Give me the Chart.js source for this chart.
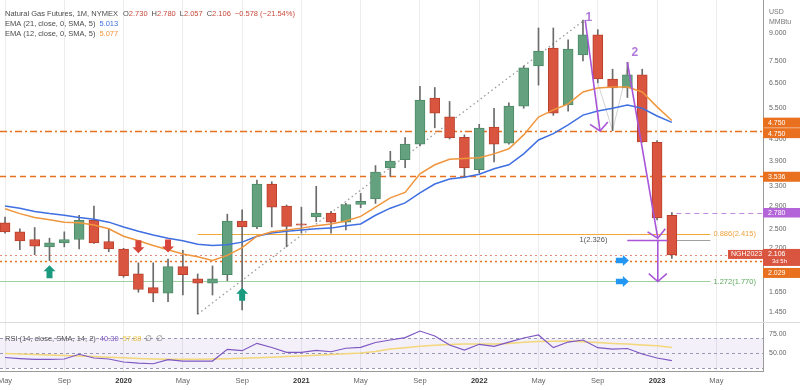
<!DOCTYPE html>
<html>
<head>
<meta charset="utf-8">
<title>Natural Gas Futures, 1M</title>
<script src="https://cdn.jsdelivr.net/npm/chart.js@4.4.1/dist/chart.umd.min.js"></script>
<style>
  body { margin: 0; background: #fff; }
  #wrap { position: relative; width: 800px; height: 390px; overflow: hidden; }
  #priceChart { position: absolute; left: 0; top: 0; }
  #rsiChart { position: absolute; left: 0; top: 323px; }
</style>
</head>
<body>
<div id="wrap">
  <canvas id="priceChart" width="800" height="323"></canvas>
  <canvas id="rsiChart" width="800" height="67"></canvas>
</div>
<script>
const FONT = "'Liberation Sans', Arial, sans-serif";

// monthly candles, May 2019 .. Feb 2023 (index 0 = May 2019)
const openP  = [2.60,2.45,2.33,2.22,2.28,2.33,2.64,2.30,2.19,1.86,1.70,1.64,1.95,1.80,1.75,1.85,2.63,2.53,3.35,2.90,2.58,2.70,2.77,2.61,2.93,3.04,3.72,3.93,4.35,5.88,5.20,4.55,3.68,4.86,4.38,5.58,7.25,8.16,5.62,7.80,8.90,6.66,6.28,6.84,4.40,2.73];
const highP  = [2.70,2.50,2.52,2.35,2.45,2.73,2.90,2.50,2.20,2.00,2.00,2.05,2.17,1.86,1.96,2.75,2.83,3.44,3.40,2.92,2.88,3.30,2.80,2.95,3.15,3.78,4.15,4.54,6.35,6.30,5.75,4.62,4.95,5.50,5.70,7.25,9.30,9.30,8.60,9.80,9.20,7.10,7.43,7.10,4.45,2.78];
const lowP   = [2.43,2.18,2.11,2.03,2.22,2.19,2.27,2.15,1.82,1.65,1.55,1.55,1.62,1.43,1.62,1.78,1.47,2.50,2.53,2.22,2.43,2.62,2.43,2.48,2.87,2.95,3.52,3.73,4.30,4.84,4.50,3.52,3.60,3.87,4.35,5.50,6.40,5.25,5.40,7.50,6.50,4.75,5.90,4.40,2.65,2.057];
const closeP = [2.45,2.31,2.23,2.28,2.33,2.64,2.28,2.19,1.84,1.68,1.64,1.95,1.85,1.75,1.80,2.63,2.53,3.35,2.88,2.54,2.56,2.77,2.61,2.93,2.99,3.62,3.89,4.35,5.80,5.33,4.53,3.72,4.83,4.35,5.58,7.16,8.00,5.33,8.10,8.90,6.66,6.28,6.84,4.41,2.684,2.106];

const ema21 = [2.90,2.86,2.80,2.76,2.73,2.69,2.66,2.61,2.53,2.46,2.40,2.35,2.31,2.26,2.24,2.25,2.29,2.38,2.43,2.46,2.48,2.50,2.51,2.55,2.58,2.73,2.86,2.96,3.16,3.35,3.46,3.50,3.57,3.70,3.80,4.08,4.47,4.66,4.93,5.26,5.40,5.50,5.62,5.50,5.23,5.013];
const ema12 = [2.85,2.76,2.69,2.65,2.61,2.60,2.56,2.50,2.38,2.31,2.24,2.18,2.12,2.08,2.03,2.10,2.21,2.38,2.45,2.48,2.51,2.55,2.58,2.63,2.71,2.88,3.06,3.17,3.58,3.80,3.94,3.96,3.98,4.08,4.22,4.62,5.19,5.44,5.66,6.12,6.28,6.32,6.32,6.12,5.55,5.077];

const rsi   = [44.4,43,42,42,42.4,48.7,43.7,42.4,38.4,36.8,36.1,41.5,39.7,39.7,39.7,55.3,53.5,63.3,57.7,51.3,51.3,54,52.1,56.7,58,64.4,67.7,71,79.7,73,61,54.4,62,59.3,65,70.4,74.4,57.5,65,67.7,57.5,55.7,56.4,49,43.7,40.30];
const rsiMa = [49.7,49,48.4,47.7,47,46.4,45.7,44.8,44,43,42.4,42,42,42,42.4,42.7,43.3,44.1,44.8,45.7,46.4,47.3,48.4,49.5,50.4,52.4,55.7,57.3,59.3,60.8,61.6,62.4,62.4,62.4,63.2,64.7,65.6,66.1,66.4,65.3,64.3,63.2,62.4,61.1,60,57.88];

const tickMonths = [0,4,8,12,16,20,24,28,32,36,40,44,48];
const tickLabels = ['May','Sep','2020','May','Sep','2021','May','Sep','2022','May','Sep','2023','May'];
const priceTicks = [9, 7.5, 6.5, 5.5, 4.5, 3.9, 3.3, 2.9, 2.5, 2.2, 1.65, 1.45];
const rsiTicks = [75, 50];
const rsiBands = [70, 50, 30];

// drawn levels and marks (month index, price)
const level4750 = 4.750;
const level3536 = 3.536;
const level2029 = 2.029;
const lastHigh = 2.780;
const fib886 = 2.415;
const fib1 = 2.326;
const fib1272 = 1.770;
const fibStart = 13, fibEnd = 47.6;
const trendLine = [[13, 1.43], [39.1, 9.8]];
const legLines = [[40, 6.5], [41, 4.75], [42.1, 7.43]];
const buyArrows = [[3, 1.97], [16, 1.70]];
const sellArrows = [[9, 2.13], [11, 2.14]];
const targetArrows = [[42.1, 2.03], [42.1, 1.77]];
const waveArrows = [
  { label: '1', from: [39.15, 9.8], to: [40.15, 4.74], at: [39.4, 9.95] },
  { label: '2', from: [42.0, 7.43], to: [44.05, 2.35], at: [42.5, 7.9] }
];
const dropArrow = [[44.05, 2.326], [44.05, 1.77]];

const xMin = -0.34, xMax = 51.15;
const priceMin = 1.349, priceMax = 11.17;
const rsiMin = 26.4, rsiMax = 90.4;

const ORANGE = '#e8701e', PURPLE = '#a855d8', RED = '#d9553f', GREEN = '#64a27f';

function hLine(ctx, x1, x2, y, color, dash, width) {
  ctx.save();
  ctx.strokeStyle = color;
  ctx.lineWidth = width;
  ctx.setLineDash(dash);
  ctx.beginPath();
  ctx.moveTo(x1, Math.round(y) + 0.5);
  ctx.lineTo(x2, Math.round(y) + 0.5);
  ctx.stroke();
  ctx.restore();
}

function blockArrow(ctx, tx, ty, angle, color, len, half) {
  ctx.save();
  ctx.translate(tx, ty);
  ctx.rotate(angle);
  ctx.fillStyle = color;
  ctx.beginPath();
  ctx.moveTo(0, 0);
  ctx.lineTo(-6, -half);
  ctx.lineTo(-6, -half / 2);
  ctx.lineTo(-len, -half / 2);
  ctx.lineTo(-len, half / 2);
  ctx.lineTo(-6, half / 2);
  ctx.lineTo(-6, half);
  ctx.closePath();
  ctx.fill();
  ctx.restore();
}

function lineArrow(ctx, x1, y1, x2, y2, color) {
  ctx.save();
  ctx.strokeStyle = color;
  ctx.lineWidth = 1.6;
  ctx.beginPath();
  ctx.moveTo(x1, y1);
  ctx.lineTo(x2, y2);
  ctx.stroke();
  var a = Math.atan2(y2 - y1, x2 - x1), L = 12, s = 0.85;
  ctx.beginPath();
  ctx.moveTo(x2 - L * Math.cos(a - s), y2 - L * Math.sin(a - s));
  ctx.lineTo(x2, y2);
  ctx.lineTo(x2 - L * Math.cos(a + s), y2 - L * Math.sin(a + s));
  ctx.stroke();
  ctx.restore();
}

function drawParts(ctx, parts, x, y) {
  parts.forEach(function(p) {
    ctx.fillStyle = p[1];
    ctx.fillText(p[0], x, y);
    x += ctx.measureText(p[0]).width + (p[2] || 0);
  });
}

function axisBox(ctx, top, h, color, text, sub) {
  ctx.fillStyle = color;
  ctx.fillRect(763, top, 37, h);
  ctx.fillStyle = '#fff';
  ctx.textAlign = 'left';
  ctx.textBaseline = 'middle';
  ctx.font = '7px ' + FONT;
  if (sub) {
    ctx.fillText(text, 768, top + 5);
    ctx.font = '6px ' + FONT;
    ctx.fillText(sub, 772, top + 12.5);
  } else {
    ctx.fillText(text, 768, top + h / 2 + 0.5);
  }
}

const priceOverlay = {
  id: 'priceOverlay',
  beforeDatasetsDraw(chart) {
    const ctx = chart.ctx, xs = chart.scales.x, ys = chart.scales.y, area = chart.chartArea;
    hLine(ctx, area.left, area.right, ys.getPixelForValue(level4750), ORANGE, [7, 3, 2, 3], 1.4);
    hLine(ctx, area.left, area.right, ys.getPixelForValue(level3536), ORANGE, [6, 4], 1.4);
    hLine(ctx, area.left, area.right, ys.getPixelForValue(closeP[closeP.length - 1]), '#e58a7a', [2, 3], 1);
    hLine(ctx, area.left, area.right, ys.getPixelForValue(level2029), ORANGE, [2, 3], 1.4);
    hLine(ctx, xs.getPixelForValue(fibStart), xs.getPixelForValue(fibEnd), ys.getPixelForValue(fib886), '#f2a93b', [], 1.2);
    hLine(ctx, area.left, xs.getPixelForValue(fibEnd), ys.getPixelForValue(fib1272), '#9fd19f', [], 1.2);
    hLine(ctx, xs.getPixelForValue(42.0), xs.getPixelForValue(fibEnd), ys.getPixelForValue(fib1), '#a0a0a0', [], 1);
    hLine(ctx, xs.getPixelForValue(45.3), area.right, ys.getPixelForValue(lastHigh), '#c28be0', [5, 4], 1.2);

    ctx.save();
    ctx.strokeStyle = '#9a9a9a';
    ctx.lineWidth = 1.3;
    ctx.setLineDash([1.5, 3]);
    ctx.beginPath();
    ctx.moveTo(xs.getPixelForValue(trendLine[0][0]), ys.getPixelForValue(trendLine[0][1]));
    ctx.lineTo(xs.getPixelForValue(trendLine[1][0]), ys.getPixelForValue(trendLine[1][1]));
    ctx.stroke();
    ctx.setLineDash([]);
    ctx.strokeStyle = 'rgba(160,160,160,0.6)';
    ctx.lineWidth = 0.8;
    ctx.beginPath();
    legLines.forEach(function(p, k) {
      var px = xs.getPixelForValue(p[0]), py = ys.getPixelForValue(p[1]);
      if (k === 0) ctx.moveTo(px, py); else ctx.lineTo(px, py);
    });
    ctx.stroke();
    ctx.restore();
  },
  afterDatasetsDraw(chart) {
    const ctx = chart.ctx, xs = chart.scales.x, ys = chart.scales.y;
    buyArrows.forEach(function(p) {
      blockArrow(ctx, xs.getPixelForValue(p[0]), ys.getPixelForValue(p[1]), -Math.PI / 2, '#1a9a7e', 13, 6);
    });
    sellArrows.forEach(function(p) {
      blockArrow(ctx, xs.getPixelForValue(p[0]), ys.getPixelForValue(p[1]), Math.PI / 2, '#d8453a', 13, 6);
    });
    targetArrows.forEach(function(p) {
      blockArrow(ctx, xs.getPixelForValue(p[0]), ys.getPixelForValue(p[1]), 0, '#2196f3', 13, 5.5);
    });

    // fib labels
    ctx.save();
    ctx.font = '7.5px ' + FONT;
    ctx.textBaseline = 'middle';
    ctx.textAlign = 'left';
    var lx = xs.getPixelForValue(fibEnd) + 3;
    ctx.fillStyle = '#eda13a';
    ctx.fillText('0.886(' + fib886.toFixed(3) + ')', lx, ys.getPixelForValue(fib886));
    ctx.fillStyle = '#5fa85f';
    ctx.fillText('1.272(' + fib1272.toFixed(3) + ')', lx, ys.getPixelForValue(fib1272));
    ctx.fillStyle = '#555';
    ctx.textAlign = 'right';
    ctx.fillText('1(' + fib1.toFixed(3) + ')', xs.getPixelForValue(42.0) - 20, ys.getPixelForValue(fib1));
    ctx.restore();

    // wave arrows
    hLine(ctx, xs.getPixelForValue(42.0), xs.getPixelForValue(44.7), ys.getPixelForValue(fib1), PURPLE, [], 1.4);
    waveArrows.forEach(function(w) {
      lineArrow(ctx, xs.getPixelForValue(w.from[0]), ys.getPixelForValue(w.from[1]),
        xs.getPixelForValue(w.to[0]), ys.getPixelForValue(w.to[1]), PURPLE);
      ctx.save();
      ctx.fillStyle = '#b07ad8';
      ctx.font = 'bold 12px ' + FONT;
      ctx.textAlign = 'center';
      ctx.textBaseline = 'middle';
      ctx.fillText(w.label, xs.getPixelForValue(w.at[0]), ys.getPixelForValue(w.at[1]));
      ctx.restore();
    });
    lineArrow(ctx, xs.getPixelForValue(dropArrow[0][0]), ys.getPixelForValue(dropArrow[0][1]),
      xs.getPixelForValue(dropArrow[1][0]), ys.getPixelForValue(dropArrow[1][1]), PURPLE);
  },
  afterDraw(chart) {
    const ctx = chart.ctx, ys = chart.scales.y;
    var n = closeP.length - 1;
    ctx.save();
    // separator
    ctx.fillStyle = '#dcdcdc';
    ctx.fillRect(0, 322, 800, 1);

    var y475 = ys.getPixelForValue(level4750);
    axisBox(ctx, y475 - 13, 10, ORANGE, level4750.toFixed(3));
    axisBox(ctx, y475 - 2.5, 10, ORANGE, level4750.toFixed(3));
    axisBox(ctx, ys.getPixelForValue(level3536) - 4, 10, ORANGE, level3536.toFixed(3));
    axisBox(ctx, ys.getPixelForValue(lastHigh) - 4.5, 9.5, '#b364d9', lastHigh.toFixed(3));
    var yc = ys.getPixelForValue(closeP[n]);
    axisBox(ctx, yc - 6, 17, RED, closeP[n].toFixed(3), '3d 5h');
    axisBox(ctx, Math.max(ys.getPixelForValue(level2029) - 5, yc + 13), 10, ORANGE, level2029.toFixed(3));
    ctx.fillStyle = RED;
    ctx.fillRect(728, yc - 5, 35, 9);
    ctx.fillStyle = '#fff';
    ctx.font = '7px ' + FONT;
    ctx.textBaseline = 'middle';
    ctx.fillText('NGH2023', 731, yc - 0.5);

    ctx.fillStyle = '#777';
    ctx.font = '7px ' + FONT;
    ctx.fillText('USD', 769, 12);
    ctx.fillText('MMBtu', 769, 22);

    // legend
    ctx.font = '7.5px ' + FONT;
    var grey = '#4a4a4a', val = '#c84a3c';
    var chg = closeP[n] - closeP[n - 1];
    drawParts(ctx, [
      ['Natural Gas Futures, 1M, NYMEX', grey, 5],
      ['O', grey], [openP[n].toFixed(3), val, 4],
      ['H', grey], [highP[n].toFixed(3), val, 4],
      ['L', grey], [lowP[n].toFixed(3), val, 4],
      ['C', grey], [closeP[n].toFixed(3), val, 4],
      ['\u2212' + Math.abs(chg).toFixed(3) + ' (\u2212' + Math.abs(chg / closeP[n - 1] * 100).toFixed(2) + '%)', val]
    ], 5, 14);
    drawParts(ctx, [['EMA (21, close, 0, SMA, 5)', grey, 4], [ema21[n].toFixed(3), '#3f6fe0']], 5, 24);
    drawParts(ctx, [['EMA (12, close, 0, SMA, 5)', grey, 4], [ema12[n].toFixed(3), '#f0963c']], 5, 34);
    ctx.restore();
  }
};

const rsiOverlay = {
  id: 'rsiOverlay',
  beforeDatasetsDraw(chart) {
    const ctx = chart.ctx, ys = chart.scales.y, area = chart.chartArea;
    var top = ys.getPixelForValue(rsiBands[0]), bot = ys.getPixelForValue(rsiBands[2]);
    ctx.save();
    ctx.fillStyle = 'rgba(126,87,194,0.09)';
    ctx.fillRect(area.left, top, area.right - area.left, bot - top);
    ctx.restore();
    rsiBands.forEach(function(b) {
      hLine(ctx, area.left, area.right, ys.getPixelForValue(b), '#9a98b4', [3, 3], 1);
    });
  },
  afterDraw(chart) {
    const ctx = chart.ctx;
    var n = rsi.length - 1;
    ctx.save();
    ctx.font = '7.5px ' + FONT;
    ctx.textBaseline = 'middle';
    drawParts(ctx, [
      ['RSI (14, close, SMA, 14, 2)', '#555', 4],
      [rsi[n].toFixed(2), '#7e57c2', 4],
      [rsiMa[n].toFixed(2), '#e8c547', 4],
      ['\u2205', '#777', 4], ['\u2205', '#777']
    ], 5, 16);
    ctx.restore();
  }
};

function xy(arr) {
  return arr.map(function(v, i) { return { x: i, y: v }; });
}

var priceCtx = document.getElementById('priceChart').getContext('2d');
var priceChart = new Chart(priceCtx, {
  type: 'bar',
  data: {
    datasets: [{
      type: 'line',
      label: 'EMA 12',
      data: xy(ema12),
      borderColor: '#f0963c',
      borderWidth: 1.5,
      pointRadius: 0,
      tension: 0,
      order: 0
    }, {
      type: 'line',
      label: 'EMA 21',
      data: xy(ema21),
      borderColor: '#3f6fe0',
      borderWidth: 1.5,
      pointRadius: 0,
      tension: 0,
      order: 1
    }, {
      label: 'Body',
      data: openP.map(function(o, i) { return { x: i, y: [o, closeP[i]] }; }),
      backgroundColor: openP.map(function(o, i) { return closeP[i] >= o ? GREEN : RED; }),
      borderColor: openP.map(function(o, i) { return closeP[i] >= o ? '#4c8a67' : '#b8402d'; }),
      borderWidth: 1,
      borderSkipped: false,
      barThickness: 10,
      grouped: false,
      order: 2
    }, {
      label: 'Wick',
      data: lowP.map(function(l, i) { return { x: i, y: [l, highP[i]] }; }),
      backgroundColor: '#6b6b6b',
      barThickness: 1,
      grouped: false,
      order: 3
    }]
  },
  options: {
    responsive: false,
    animation: false,
    devicePixelRatio: 1,
    layout: { padding: 0 },
    plugins: { legend: { display: false }, tooltip: { enabled: false } },
    scales: {
      x: {
        type: 'linear',
        min: xMin,
        max: xMax,
        offset: false,
        bounds: 'data',
        grid: { color: '#ececec', drawTicks: false, offset: false },
        border: { display: false },
        ticks: { display: false },
        afterBuildTicks: function(s) { s.ticks = tickMonths.map(function(v) { return { value: v }; }); },
        afterFit: function(s) { s.height = 0; s.paddingLeft = 0; s.paddingRight = 0; }
      },
      y: {
        type: 'logarithmic',
        position: 'right',
        min: priceMin,
        max: priceMax,
        bounds: 'data',
        grid: { display: false, drawTicks: false },
        border: { display: true, color: '#9a9a9a' },
        ticks: {
          padding: 6,
          color: '#666',
          autoSkip: false,
          font: { size: 7, family: FONT },
          callback: function(v) { return Number(v).toFixed(3); }
        },
        afterBuildTicks: function(s) { s.ticks = priceTicks.map(function(v) { return { value: v }; }); },
        afterFit: function(s) { s.width = 37; s.paddingTop = 0; s.paddingBottom = 0; }
      }
    }
  },
  plugins: [priceOverlay]
});

var rsiCtx = document.getElementById('rsiChart').getContext('2d');
var rsiChart = new Chart(rsiCtx, {
  type: 'line',
  data: {
    datasets: [{
      label: 'RSI',
      data: xy(rsi),
      borderColor: '#7e57c2',
      borderWidth: 1.2,
      pointRadius: 0,
      tension: 0,
      order: 0
    }, {
      label: 'RSI MA',
      data: xy(rsiMa),
      borderColor: '#f3d77a',
      borderWidth: 1.5,
      pointRadius: 0,
      tension: 0,
      order: 1
    }]
  },
  options: {
    responsive: false,
    animation: false,
    devicePixelRatio: 1,
    layout: { padding: 0 },
    plugins: { legend: { display: false }, tooltip: { enabled: false } },
    scales: {
      x: {
        type: 'linear',
        min: xMin,
        max: xMax,
        offset: false,
        bounds: 'data',
        grid: { color: '#ececec', drawTicks: false },
        border: { display: true, color: '#9a9a9a' },
        ticks: {
          padding: 5,
          maxRotation: 0,
          autoSkip: false,
          color: function(c) {
            var lab = c.tick ? tickLabels[tickMonths.indexOf(c.tick.value)] : '';
            return /^\d{4}$/.test(lab) ? '#333' : '#666';
          },
          font: function(c) {
            var lab = c.tick ? tickLabels[tickMonths.indexOf(c.tick.value)] : '';
            return { family: FONT, size: 7.5, weight: /^\d{4}$/.test(lab) ? 'bold' : 'normal' };
          },
          callback: function(v) {
            var k = tickMonths.indexOf(v);
            return k >= 0 ? tickLabels[k] : '';
          }
        },
        afterBuildTicks: function(s) { s.ticks = tickMonths.map(function(v) { return { value: v }; }); },
        afterFit: function(s) { s.height = 19; s.paddingLeft = 0; s.paddingRight = 0; }
      },
      y: {
        type: 'linear',
        position: 'right',
        min: rsiMin,
        max: rsiMax,
        bounds: 'data',
        grid: { display: false, drawTicks: false },
        border: { display: true, color: '#9a9a9a' },
        ticks: {
          padding: 6,
          color: '#666',
          font: { size: 7, family: FONT },
          callback: function(v) { return Number(v).toFixed(2); }
        },
        afterBuildTicks: function(s) { s.ticks = rsiTicks.map(function(v) { return { value: v }; }); },
        afterFit: function(s) { s.width = 37; s.paddingTop = 0; s.paddingBottom = 0; }
      }
    }
  },
  plugins: [rsiOverlay]
});
</script>
</body>
</html>
